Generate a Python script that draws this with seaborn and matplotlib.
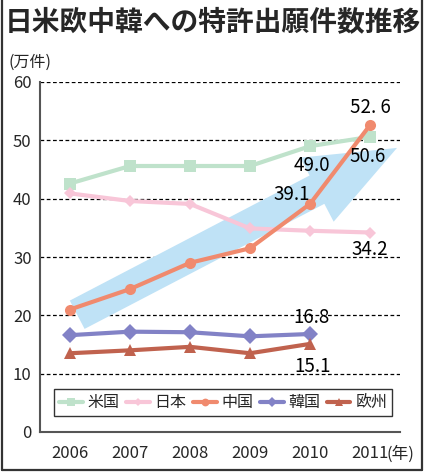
import numpy as np
import pandas as pd
import matplotlib
matplotlib.use("Agg")
import matplotlib.pyplot as plt
from matplotlib.lines import Line2D
import seaborn as sns

years = [2006, 2007, 2008, 2009, 2010, 2011]
regions = ["米国", "日本", "中国", "韓国", "欧州"]
us = [42.6, 45.6, 45.6, 45.6, 49.0, 50.6]
japan = [40.9, 39.6, 39.1, 34.9, 34.5, 34.2]
china = [21.0, 24.5, 29.0, 31.5, 39.1, 52.6]
korea = [16.6, 17.2, 17.1, 16.4, 16.8, np.nan]
europe = [13.5, 14.0, 14.6, 13.5, 15.1, np.nan]

colors = ["#bfe2cb", "#f8c6d8", "#f08a6e", "#8282c6", "#c0624e"]
markers = ["s", "D", "o", "D", "^"]
marker_sizes = [8, 6, 8, 8, 8]

df = pd.DataFrame({
    "year": years * 5,
    "value": us + japan + china + korea + europe,
    "region": sum([[r] * len(years) for r in regions], []),
}).dropna()

sns.set_theme(style="white")
plt.rcParams["font.family"] = ["Noto Sans CJK JP", "DejaVu Sans"]

fig = plt.figure(figsize=(4.26, 4.74), dpi=100)
ax = fig.add_axes([40 / 426, 42 / 474, 360 / 426, 350 / 474])

# y grid
for v in range(10, 70, 10):
    ax.axhline(v, color="black", lw=0.9, ls=(0, (3, 2)), zorder=0.5)

# big blue trend arrow
ax.annotate("", xy=(2011.45, 48.7), xytext=(2006.12, 20.1),
            arrowprops=dict(arrowstyle="simple,head_length=6.5,head_width=5.2,tail_width=2.3",
                            mutation_scale=10, color="#bfe2f6", lw=0,
                            shrinkA=0, shrinkB=0),
            zorder=1)

for i, r in enumerate(regions):
    sub = df[df["region"] == r]
    sns.lineplot(data=sub, x="year", y="value", ax=ax, color=colors[i],
                 marker=markers[i], markersize=marker_sizes[i], linewidth=3,
                 markeredgewidth=0, label=r, zorder=3)

ax.set_xlim(2005.5, 2011.5)
ax.set_ylim(0, 60)
ax.set_xticks(years)
ax.set_xticklabels([str(y) for y in years])
ax.set_yticks(range(0, 70, 10))
ax.set_xlabel("")
ax.set_ylabel("")
ax.tick_params(axis="x", direction="in", length=3, width=0.8, color="#555555",
               labelsize=12, pad=9)
ax.tick_params(axis="y", length=0, labelsize=12, pad=6)
for s in ["top", "right"]:
    ax.spines[s].set_visible(False)
for s in ["left", "bottom"]:
    ax.spines[s].set_color("#555555")
    ax.spines[s].set_linewidth(1.5)

# value labels
notes = [(2011, 52.6, "52. 6", 0, 13), (2011, 50.6, "50.6", -2, -14),
         (2010, 49.0, "49.0", 1, -14), (2010, 39.1, "39.1", -13, 7),
         (2011, 34.2, "34.2", 0, -12), (2010, 16.8, "16.8", 1, 12),
         (2010, 15.1, "15.1", 2, -16)]
for x, y, t, dx, dy in notes:
    ax.annotate(t, xy=(x, y), xytext=(dx, dy), textcoords="offset points",
                ha="center", va="center", fontsize=13.5, color="black", zorder=5)

ax.annotate("(年)", xy=(2011, 0), xytext=(22, -16), textcoords="offset points",
            ha="center", va="center", fontsize=12, annotation_clip=False)

leg = ax.legend(loc="lower left", bbox_to_anchor=(0.039, 0.046, 0.939, 0.083),
                mode="expand", ncol=5, frameon=True, fancybox=False,
                fontsize=11.5, handlelength=1.5, handletextpad=0.3, markerscale=0.7,
                columnspacing=0.8, borderaxespad=0, borderpad=0.3)
leg.get_frame().set_edgecolor("black")
leg.get_frame().set_linewidth(1.0)

fig.text(0.5, 1 - 22 / 474, "日米欧中韓への特許出願件数推移", ha="center", va="center",
         fontsize=20, fontweight="bold")
fig.text(8 / 426, 1 - 62 / 474, "(万件)", ha="left", va="center", fontsize=11.5)

# outer frame
for xs, ys in [([0.004, 0.004], [0.008, 1.0]), ([0.991, 0.991], [0.008, 1.0]),
               ([0.004, 0.991], [0.008, 0.008])]:
    fig.add_artist(Line2D(xs, ys, transform=fig.transFigure, color="#333333", lw=1.6))

fig.savefig("out.png", dpi=100)
